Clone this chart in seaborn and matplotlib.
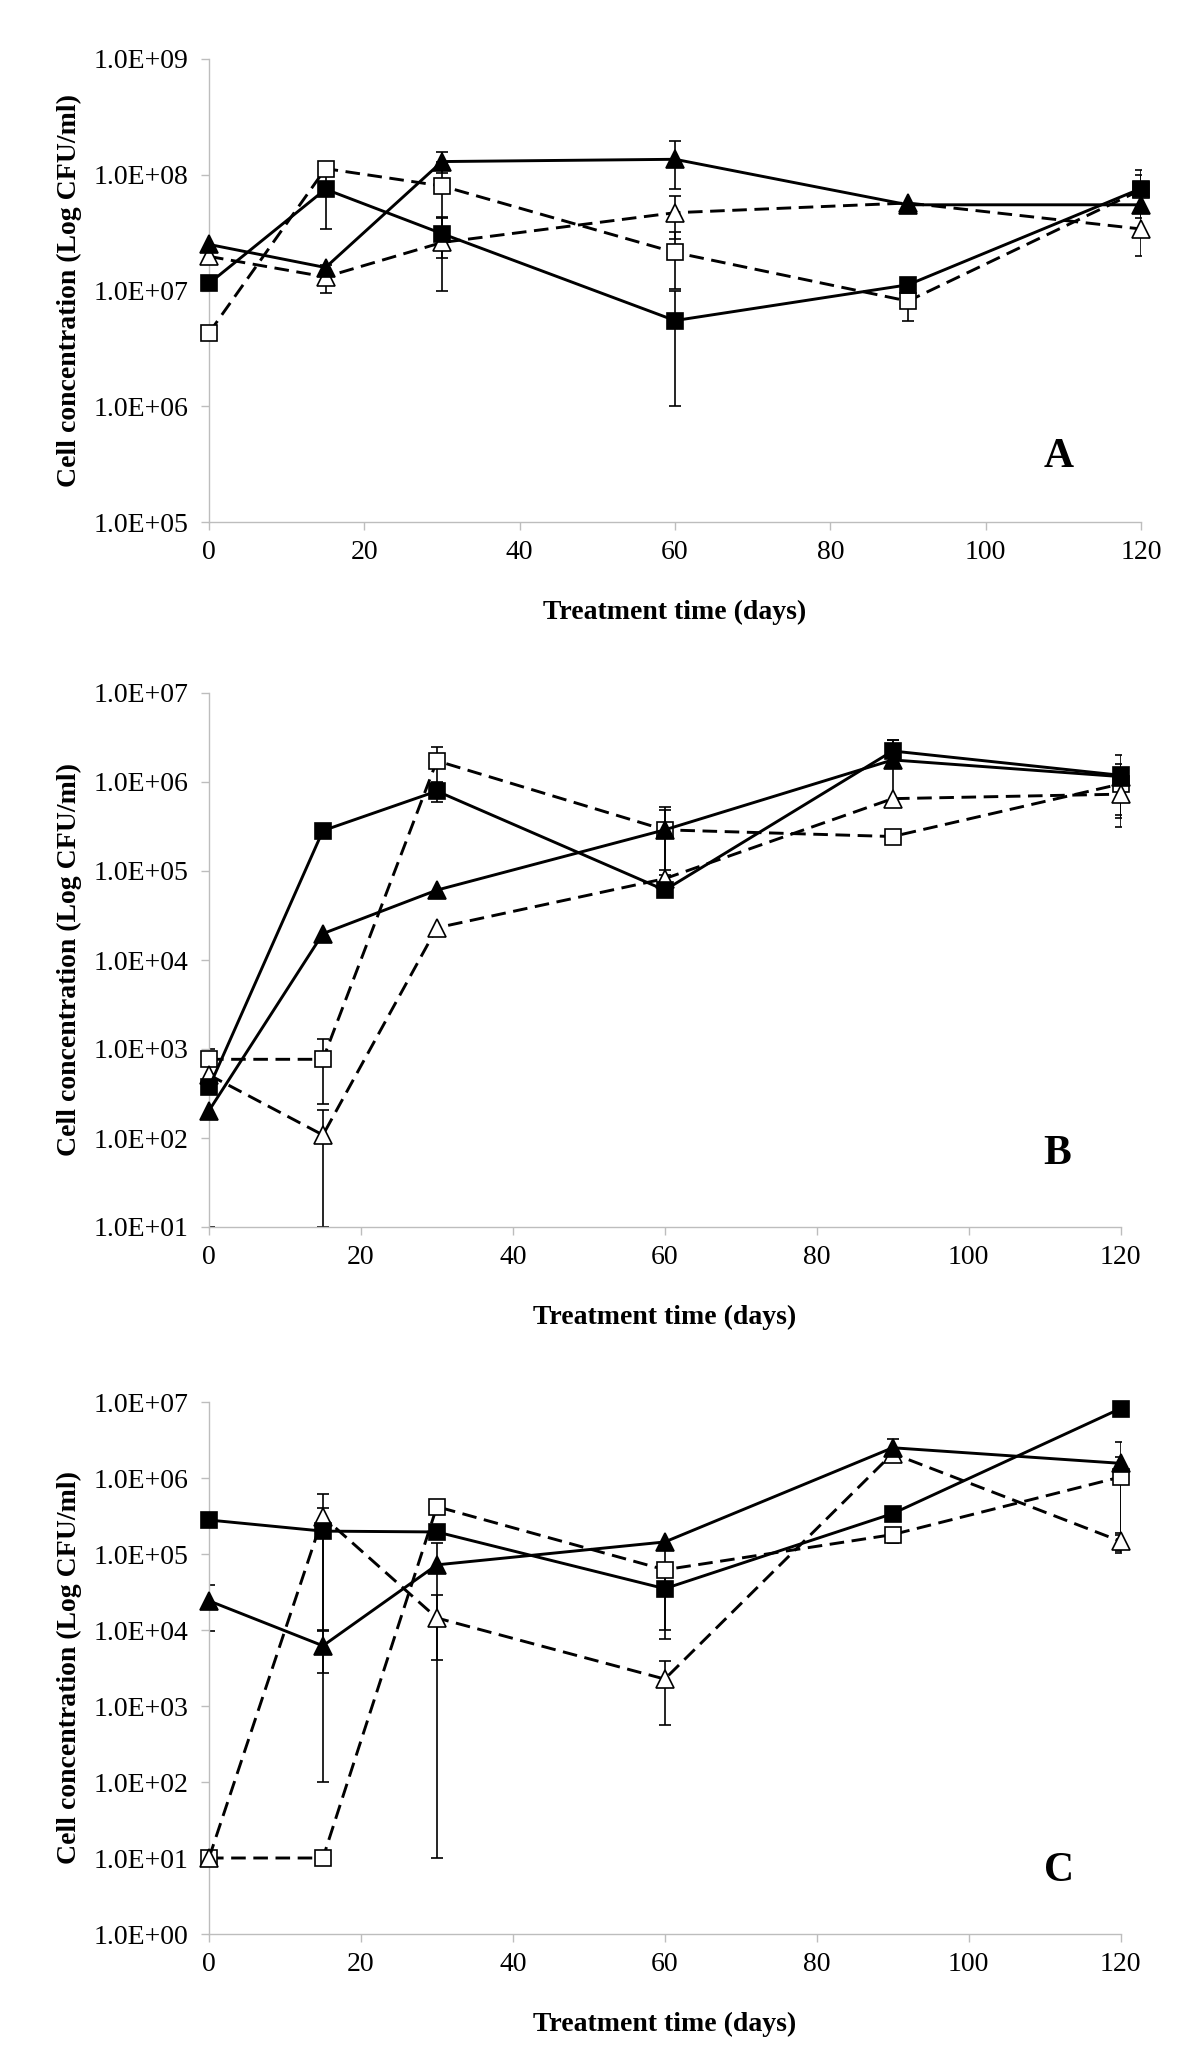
import numpy as np
import pandas as pd
import seaborn as sns
import matplotlib
matplotlib.use("Agg")
import matplotlib.pyplot as plt
from matplotlib.ticker import FixedLocator, NullLocator, FixedFormatter

# ---------------- data ----------------
days = [0, 15, 30, 60, 90, 120]

# Panel A
A_fsq = [1.15e7, 7.5e7, 3.1e7, 5.5e6, 1.12e7, 7.6e7]
A_fsq_err = [0, 4.1e7, 1.2e7, 4.5e6, 0, 3.4e7]
A_osq = [4.3e6, 1.13e8, 8.0e7, 2.13e7, 8.1e6, 7.4e7]
A_osq_err = [0, 0, 5.0e7, 1.1e7, 2.6e6, 2.6e7]
A_ftri = [2.5e7, 1.58e7, 1.3e8, 1.36e8, 5.5e7, 5.5e7]
A_ftri_err = [0, 0, 2.7e7, 6.0e7, 0, 0]
A_otri = [1.97e7, 1.31e7, 2.6e7, 4.7e7, 5.7e7, 3.4e7]
A_otri_err = [0, 3.5e6, 1.6e7, 1.9e7, 0, 1.4e7]

# Panel B
B_fsq = [370, 2.84e5, 7.9e5, 6.1e4, 2.23e6, 1.19e6]
B_fsq_err = [0, 0, 1.9e5, 0, 7.0e5, 8.0e5]
B_osq = [766, 766, 1.73e6, 2.9e5, 2.44e5, 9.5e5]
B_osq_err = [243, 524, 7.2e5, 2.3e5, 4.5e4, 6.4e5]
B_ftri = [203, 1.98e4, 6.1e4, 2.9e5, 1.77e6, 1.15e6]
B_ftri_err = [193, 0, 0, 2.0e5, 1.2e6, 0]
B_otri = [512, 108, 2.3e4, 8.2e4, 6.5e5, 7.3e5]
B_otri_err = [0, 98, 0, 2.0e4, 0, 3.0e5]

# Panel C
C_fsq = [2.8e5, 2.0e5, 1.95e5, 3.5e4, 3.4e5, 8.2e6]
C_fsq_err = [0, 1.999e5, 0, 2.5e4, 0, 0]
C_osq = [10, 10, 4.2e5, 6.2e4, 1.8e5, 1.03e6]
C_osq_err = [0, 0, 0, 5.45e4, 4.2e4, 8.5e5]
C_ftri = [2.42e4, 6.2e3, 7.2e4, 1.44e5, 2.5e6, 1.56e6]
C_ftri_err = [1.45e4, 3.5e3, 6.8e4, 0, 8.0e5, 1.45e6]
C_otri = [10, 3.1e5, 1.44e4, 2.26e3, 2.1e6, 1.47e5]
C_otri_err = [0, 3.0e5, 1.439e4, 1.7e3, 0, 4.4e4]

panel_letters = ["A", "B", "C"]
y_decades = [[5, 6, 7, 8, 9], [1, 2, 3, 4, 5, 6, 7], [0, 1, 2, 3, 4, 5, 6, 7]]
x_ticks = [0, 20, 40, 60, 80, 100, 120]
x_label = "Treatment time (days)"
y_label = "Cell concentration (Log CFU/ml)"

# ---------------- style ----------------
sns.set_theme(style="white")
plt.rcParams["font.family"] = ["Liberation Serif", "DejaVu Serif"]

W, H = 1200, 2056
fig = plt.figure(figsize=(W / 100, H / 100), dpi=100)

# axes rectangles in pixel (left, top, right, bottom)
rects_px = [(209, 59, 1141, 522), (209, 693, 1120.5, 1227), (209, 1402, 1120.5, 1934)]
letter_pos = [(0.912, 0.140), (0.931, 0.136), (0.933, 0.119)]

# drawing order: open symbols first, filled symbols on top
panels = [
    [(A_osq, A_osq_err, "s", False), (A_otri, A_otri_err, "^", False),
     (A_ftri, A_ftri_err, "^", True), (A_fsq, A_fsq_err, "s", True)],
    [(B_osq, B_osq_err, "s", False), (B_otri, B_otri_err, "^", False),
     (B_ftri, B_ftri_err, "^", True), (B_fsq, B_fsq_err, "s", True)],
    [(C_osq, C_osq_err, "s", False), (C_otri, C_otri_err, "^", False),
     (C_fsq, C_fsq_err, "s", True), (C_ftri, C_ftri_err, "^", True)],
]

spine_col = "#BDBDBD"
dash = (0, (5.0, 2.6))

for i, (series, (l, t, r, b)) in enumerate(zip(panels, rects_px)):
    ax = fig.add_axes([l / W, 1 - b / H, (r - l) / W, (b - t) / H])
    ax.set_yscale("log")
    dec = y_decades[i]
    ax.set_ylim(10.0 ** dec[0], 10.0 ** dec[-1])
    ax.set_xlim(0, 120)

    for vals, err, mk, filled in series:
        vals = np.asarray(vals, float)
        err = np.asarray(err, float)
        m = err > 0
        if m.any():
            ax.errorbar(np.asarray(days)[m], vals[m], yerr=err[m], fmt="none",
                        ecolor="black", elinewidth=1.2, capsize=4.5, capthick=1.2,
                        zorder=2)
        df = pd.DataFrame({"day": days, "cfu": vals})
        sns.lineplot(data=df, x="day", y="cfu", ax=ax, color="black",
                     linestyle="-" if filled else dash, linewidth=2.1,
                     marker=mk, markersize=11.5 if mk == "s" else 12.5,
                     markerfacecolor="black" if filled else "white",
                     markeredgecolor="black", markeredgewidth=1.2,
                     errorbar=None, legend=False, clip_on=False, zorder=3)

    ax.yaxis.set_major_locator(FixedLocator([10.0 ** d for d in dec]))
    ax.yaxis.set_major_formatter(FixedFormatter(["%.1E" % (10.0 ** d) for d in dec]))
    ax.yaxis.set_minor_locator(NullLocator())
    ax.set_xticks(x_ticks)
    ax.set_xticklabels([str(v) for v in x_ticks])

    for s in ["top", "right"]:
        ax.spines[s].set_visible(False)
    for s in ["left", "bottom"]:
        ax.spines[s].set_color(spine_col)
        ax.spines[s].set_linewidth(1.0)
    ax.tick_params(axis="both", which="major", direction="out", length=6, width=1.0,
                   color=spine_col, labelsize=20, labelcolor="black",
                   left=True, bottom=True)
    ax.tick_params(axis="x", pad=7)
    ax.tick_params(axis="y", pad=9)

    ax.set_xlabel(x_label, fontsize=20, fontweight="bold", labelpad=25, color="black")
    ax.set_ylabel(y_label, fontsize=20, fontweight="bold", labelpad=8, color="black")
    ax.grid(False)

    lx, ly = letter_pos[i]
    ax.text(lx, ly, panel_letters[i], transform=ax.transAxes, ha="center", va="center",
            fontsize=30, fontweight="bold", color="black")

fig.savefig("out.png", dpi=100, facecolor="white")
